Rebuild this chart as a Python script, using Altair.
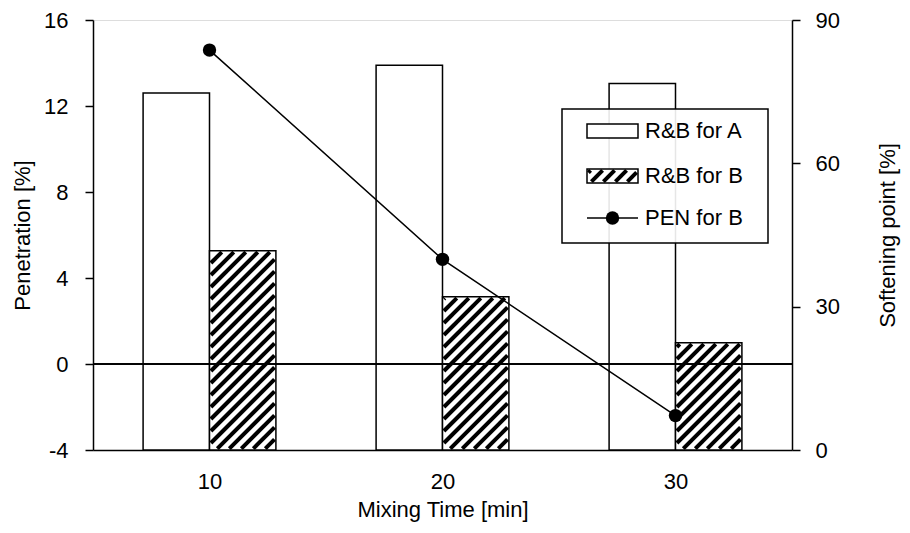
import altair as alt
import pandas as pd
import numpy as np

# ---- data ----
times = [10, 20, 30]
rb_a = [12.6, 13.9, 13.05]      # R&B for A (left axis, Penetration %)
rb_b = [5.27, 3.13, 0.99]       # R&B for B (left axis)
pen_b = [83.7, 39.9, 7.2]       # PEN for B (right axis, Softening point %)

# ---- layout constants ----
W, H = 699, 430
XDOM = [5, 35]
YDOM = [-4, 16]
Y2DOM = [0, 90]
BAR_W = 2.85
FONT = "Liberation Sans, Arial"
FS = 22
HATCH_P = 12.0
HATCH_W = 4.0

px_x = W / (XDOM[1] - XDOM[0])
px_y = H / (YDOM[1] - YDOM[0])


def hatch(wp, hp, period, inset):
    """diagonal '/' segments inside a wp x hp box, in (u, v) pixel units, v upward"""
    segs = []
    for c in np.arange(-wp, hp + period, period):
        u0 = max(inset, inset - c)
        u1 = min(wp - inset, hp - inset - c)
        if u1 > u0 + 0.5:
            segs.append((u0, u0 + c, u1, u1 + c))
    return segs


bars = pd.DataFrame({"t": times, "a": rb_a, "b": rb_b})
line_df = pd.DataFrame({"t": times, "pen": pen_b})

# hatch segments for B bars, converted back into data units
rows = []
ins = HATCH_W / 2 * 0.7071
for t, v in zip(times, rb_b):
    x0 = t
    wp = BAR_W * px_x
    hp = (v - YDOM[0]) * px_y
    for (ua, va, ub, vb) in hatch(wp, hp, HATCH_P, ins):
        rows.append({"x": x0 + ua / px_x, "y": YDOM[0] + va / px_y,
                     "x2": x0 + ub / px_x, "y2": YDOM[0] + vb / px_y})
hatch_df = pd.DataFrame(rows)

xs = alt.Scale(domain=XDOM)
ys = alt.Scale(domain=YDOM)
y2s = alt.Scale(domain=Y2DOM)

x_axis = alt.Axis(values=times, ticks=False, grid=False, labelFont=FONT, labelFontSize=FS,
                  labelPadding=21, domainColor="black", domainWidth=1.5, labelColor="black",
                  title="Mixing Time [min]", titleFont=FONT, titleFontSize=FS,
                  titleFontWeight="normal", titleColor="black", titleX=W / 2, titleY=59,
                  titleBaseline="middle", titleAlign="center")
y_axis = alt.Axis(values=[-4, 0, 4, 8, 12, 16], grid=False, tickSize=8, tickWidth=1.5,
                  tickColor="black", domainColor="black", domainWidth=1.5,
                  labelFont=FONT, labelFontSize=FS, labelPadding=17, labelColor="black",
                  labelExpr="'' + datum.value",
                  title="Penetration [%]", titleFont=FONT, titleFontSize=FS,
                  titleFontWeight="normal", titleColor="black", titleAngle=270,
                  titleX=-71, titleY=H / 2, titleBaseline="middle", titleAlign="center")
y2_axis = alt.Axis(values=[0, 30, 60, 90], grid=False, tickSize=8, tickWidth=1.5,
                   tickColor="black", domainColor="black", domainWidth=1.5, orient="right",
                   labelFont=FONT, labelFontSize=FS, labelPadding=15, labelColor="black",
                   title="Softening point [%]", titleFont=FONT, titleFontSize=FS,
                   titleFontWeight="normal", titleColor="black", titleAngle=270,
                   titleX=95, titleY=H / 2, titleBaseline="middle", titleAlign="center")

base = alt.Chart(bars).transform_calculate(ybase=str(YDOM[0]))

bar_a = base.transform_calculate(x0=f"datum.t - {BAR_W}").mark_rect(
    fill="white", stroke="black", strokeWidth=1.5).encode(
    x=alt.X("x0:Q", scale=xs, axis=x_axis),
    x2="t:Q",
    y=alt.Y("ybase:Q", scale=ys, axis=y_axis),
    y2="a:Q",
)
bar_b_fill = base.transform_calculate(x1=f"datum.t + {BAR_W}").mark_rect(
    fill="white", stroke=None).encode(
    x=alt.X("t:Q", scale=xs), x2="x1:Q",
    y=alt.Y("ybase:Q", scale=ys), y2="b:Q",
)
hatch_lines = alt.Chart(hatch_df).mark_rule(color="black", strokeWidth=HATCH_W,
                                             strokeCap="butt").encode(
    x=alt.X("x:Q", scale=xs), x2="x2:Q",
    y=alt.Y("y:Q", scale=ys), y2="y2:Q",
)
bar_b_outline = base.transform_calculate(x1=f"datum.t + {BAR_W}").mark_rect(
    fill=None, fillOpacity=0, stroke="black", strokeWidth=1.5).encode(
    x=alt.X("t:Q", scale=xs), x2="x1:Q",
    y=alt.Y("ybase:Q", scale=ys), y2="b:Q",
)
zero = alt.Chart(bars).mark_rule(color="black", strokeWidth=1.5).encode(
    y=alt.Y(datum=0, scale=ys)
)
left = alt.layer(bar_a, bar_b_fill, hatch_lines, bar_b_outline, zero)

pen_line = alt.Chart(line_df).mark_line(color="black", strokeWidth=1.5).encode(
    x=alt.X("t:Q", scale=xs),
    y=alt.Y("pen:Q", scale=y2s, axis=y2_axis),
)
pen_pts = alt.Chart(line_df).mark_point(filled=True, color="black", size=180, opacity=1).encode(
    x=alt.X("t:Q", scale=xs),
    y=alt.Y("pen:Q", scale=y2s),
)
right = alt.layer(pen_line, pen_pts)

# ---- legend (drawn by hand so the hatched symbol can be shown) ----
one = pd.DataFrame({"k": [0]})
LX0, LX1, LY0, LY1 = 469, 675, 89, 223
SX0, SX1 = 494, 545
TX = 552
rows_y = [111, 156, 198]
labels = ["R&B for A", "R&B for B", "PEN for B"]

leg_box = alt.Chart(one).mark_rect(fill="white", fillOpacity=0.9, stroke="black",
                                   strokeWidth=1.5).encode(
    x=alt.value(LX0), x2=alt.value(LX1), y=alt.value(LY0), y2=alt.value(LY1))
leg_a = alt.Chart(one).mark_rect(fill="white", stroke="black", strokeWidth=1.5).encode(
    x=alt.value(SX0), x2=alt.value(SX1), y=alt.value(rows_y[0] - 7), y2=alt.value(rows_y[0] + 7))
leg_b_fill = alt.Chart(one).mark_rect(fill="white").encode(
    x=alt.value(SX0), x2=alt.value(SX1), y=alt.value(rows_y[1] - 7), y2=alt.value(rows_y[1] + 7))
lrows = []
for (ua, va, ub, vb) in hatch(SX1 - SX0, 14, HATCH_P, ins):
    lrows.append({"x": SX0 + ua, "y": rows_y[1] + 7 - va, "x2": SX0 + ub, "y2": rows_y[1] + 7 - vb})
leg_hatch = alt.Chart(pd.DataFrame(lrows)).mark_rule(color="black", strokeWidth=HATCH_W,
                                                     strokeCap="butt").encode(
    x=alt.X("x:Q", scale=None, axis=None), x2="x2:Q",
    y=alt.Y("y:Q", scale=None, axis=None), y2="y2:Q")
leg_b_out = alt.Chart(one).mark_rect(fill=None, fillOpacity=0, stroke="black", strokeWidth=1.5).encode(
    x=alt.value(SX0), x2=alt.value(SX1), y=alt.value(rows_y[1] - 7), y2=alt.value(rows_y[1] + 7))
leg_line = alt.Chart(one).mark_rule(color="black", strokeWidth=1.5).encode(
    x=alt.value(SX0), x2=alt.value(SX1), y=alt.value(rows_y[2]))
leg_pt = alt.Chart(one).mark_point(filled=True, color="black", size=180, opacity=1).encode(
    x=alt.value((SX0 + SX1) / 2), y=alt.value(rows_y[2]))
leg_text = alt.Chart(pd.DataFrame({"label": labels, "ty": rows_y})).mark_text(
    align="left", baseline="middle", font=FONT, fontSize=FS, color="black").encode(
    x=alt.value(TX), y=alt.Y("ty:Q", scale=None, axis=None), text="label:N")
legend = alt.layer(leg_box, leg_a, leg_b_fill, leg_hatch, leg_b_out, leg_line, leg_pt, leg_text)

chart = alt.layer(left, right, legend).resolve_scale(y="independent").properties(
    width=W, height=H,
    padding={"left": 85, "top": 12, "right": 110, "bottom": 75},
    autosize=alt.AutoSizeParams(type="none"),
).configure_view(stroke="black", strokeWidth=1.5).configure(background="white")

chart.save("out.html", embed_options={"renderer": "svg", "actions": False})
